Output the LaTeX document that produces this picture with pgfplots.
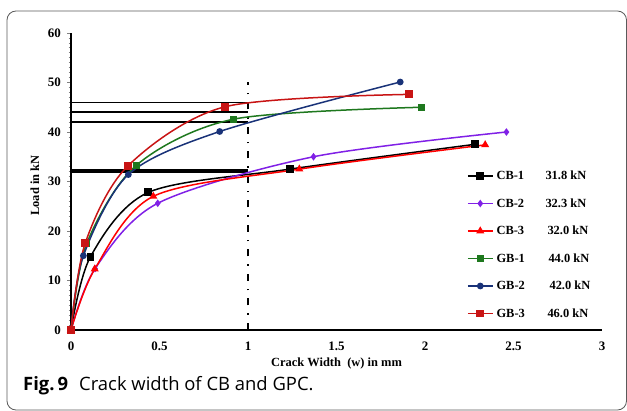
\documentclass[border=0pt]{standalone}
\usepackage{pgfplots}
\pgfplotsset{compat=1.18}
\usepackage{fontspec}
\setmainfont{Liberation Serif}
\newfontfamily\capfont{Open Sans}
\definecolor{cbone}{RGB}{0,0,0}
\definecolor{cbtwo}{RGB}{128,32,230}
\definecolor{cbthree}{RGB}{255,0,0}
\definecolor{gbone}{RGB}{30,120,30}
\definecolor{gbtwo}{RGB}{25,50,120}
\definecolor{gbthree}{RGB}{200,20,20}
\definecolor{framegray}{RGB}{90,90,90}
\begin{document}
\begin{tikzpicture}
\useasboundingbox (0,0) rectangle (627bp,411bp);
\draw[framegray, line width=0.8bp, rounded corners=9bp] (7bp,1bp) rectangle (626.5bp,400bp);
\node[anchor=base west, inner sep=0pt] at (23bp,21bp) {\capfont\fontsize{18.5}{18.5}\selectfont\textbf{Fig.\,9}\hspace{11bp}Crack width of CB and GPC.};
\begin{axis}[
  at={(71bp,81bp)}, anchor=south west,
  scale only axis, width=531bp, height=297bp,
  xmin=0, xmax=3, ymin=0, ymax=60,
  clip=false,
  axis x line=bottom, axis y line=left,
  axis line style={-, line width=1.3bp},
  xtick={0,0.5,1,1.5,2,2.5,3},
  ytick={0,10,20,30,40,50,60},
  minor y tick num=9,
  tick align=outside,
  major tick length=4bp, minor tick length=2.5bp,
  xtick style={draw=none},
  ytick style={line width=0.8bp},
  /pgf/number format/assume math mode=true,
  tick label style={font=\fontsize{13}{13}\selectfont\bfseries},
  yticklabel style={inner sep=0pt, anchor=east, xshift=-6bp},
  xticklabel style={inner sep=0pt, anchor=north, yshift=-8bp},
  xlabel={Crack Width\ \ (w) in mm},
  ylabel={Load in kN},
  every axis x label/.style={at={(axis description cs:0.5,-0.113)}, anchor=center, font=\fontsize{12.5}{12.5}\selectfont\bfseries},
  every axis y label/.style={at={(axis description cs:-0.068,0.4865)}, anchor=center, rotate=90, font=\fontsize{12.5}{12.5}\selectfont\bfseries},
  legend style={at={(axis description cs:0.7458,0.5387)}, anchor=north west,
    draw=none, fill=none, inner sep=0pt, outer sep=0pt, row sep=15.5bp,
    font=\fontsize{12.5}{12.5}\selectfont\bfseries,
    nodes={inner sep=0pt, text height=9.5bp, text depth=2.5bp}},
  legend cell align=left,
  legend image code/.code={\draw[mark repeat=2,mark phase=2,line width=1.5bp,#1] plot coordinates {(0bp,0bp)(12.5bp,0bp)(25bp,0bp)};},
]
% reference lines
\addplot[black, line width=1.6bp, forget plot] coordinates {(0,46) (1,46)};
\addplot[black, line width=1.6bp, forget plot] coordinates {(0,44) (1,44)};
\addplot[black, line width=1.6bp, forget plot] coordinates {(0,42) (1,42)};
\addplot[black, line width=1.4bp, forget plot] coordinates {(0,31.8) (1,31.8)};
\addplot[black, line width=1.4bp, forget plot] coordinates {(0,32.0) (1,32.0)};
\addplot[black, line width=1.4bp, forget plot] coordinates {(0,32.3) (1,32.3)};
\addplot[black, line width=2bp, dash pattern=on 7bp off 8bp on 1.5bp off 8bp, forget plot] coordinates {(1,0) (1,50.2)};
% series
\addplot[cbone, line width=1.5bp, smooth, mark=square*, mark size=3.2bp, mark options={solid, fill=cbone}]
  coordinates {(0,0) (0.11,14.8) (0.437,27.8) (1.237,32.5) (2.28,37.5)};
\addlegendentry{\hspace{3bp}\makebox[49bp][l]{CB-1}31.8 kN}
\addplot[cbtwo, line width=1.5bp, smooth, mark=diamond*, mark size=2.6bp, mark options={solid, fill=cbtwo}]
  coordinates {(0,0) (0.136,12.4) (0.49,25.6) (1.37,35.0) (2.46,40.0)};
\addlegendentry{\hspace{3bp}\makebox[49bp][l]{CB-2}32.3 kN}
\addplot[cbthree, line width=1.5bp, smooth, mark=triangle*, mark size=3.2bp, mark options={solid, fill=cbthree}]
  coordinates {(0,0) (0.134,12.3) (0.465,27.0) (1.29,32.5) (2.34,37.4)};
\addlegendentry{\hspace{3bp}\makebox[51bp][l]{CB-3}32.0 kN}
\addplot[gbone, line width=1.5bp, smooth, mark=square*, mark size=2.8bp, mark options={solid, fill=gbone}]
  coordinates {(0,0) (0.088,17.4) (0.37,33.3) (0.92,42.6) (1.98,45.0)};
\addlegendentry{\hspace{3bp}\makebox[52bp][l]{GB-1}44.0 kN}
\addplot[gbtwo, line width=1.5bp, smooth, mark=*, mark size=2.6bp, mark options={solid, fill=gbtwo}]
  coordinates {(0,0) (0.07,15.0) (0.324,31.4) (0.84,40.1) (1.86,50.1)};
\addlegendentry{\hspace{3bp}\makebox[53bp][l]{GB-2}42.0 kN}
\addplot[gbthree, line width=1.5bp, smooth, mark=square*, mark size=3.2bp, mark options={solid, fill=gbthree}]
  coordinates {(0,0) (0.08,17.5) (0.32,33.1) (0.87,45.1) (1.91,47.6)};
\addlegendentry{\hspace{3bp}\makebox[51bp][l]{GB-3}46.0 kN}
\end{axis}
\end{tikzpicture}
\end{document}
